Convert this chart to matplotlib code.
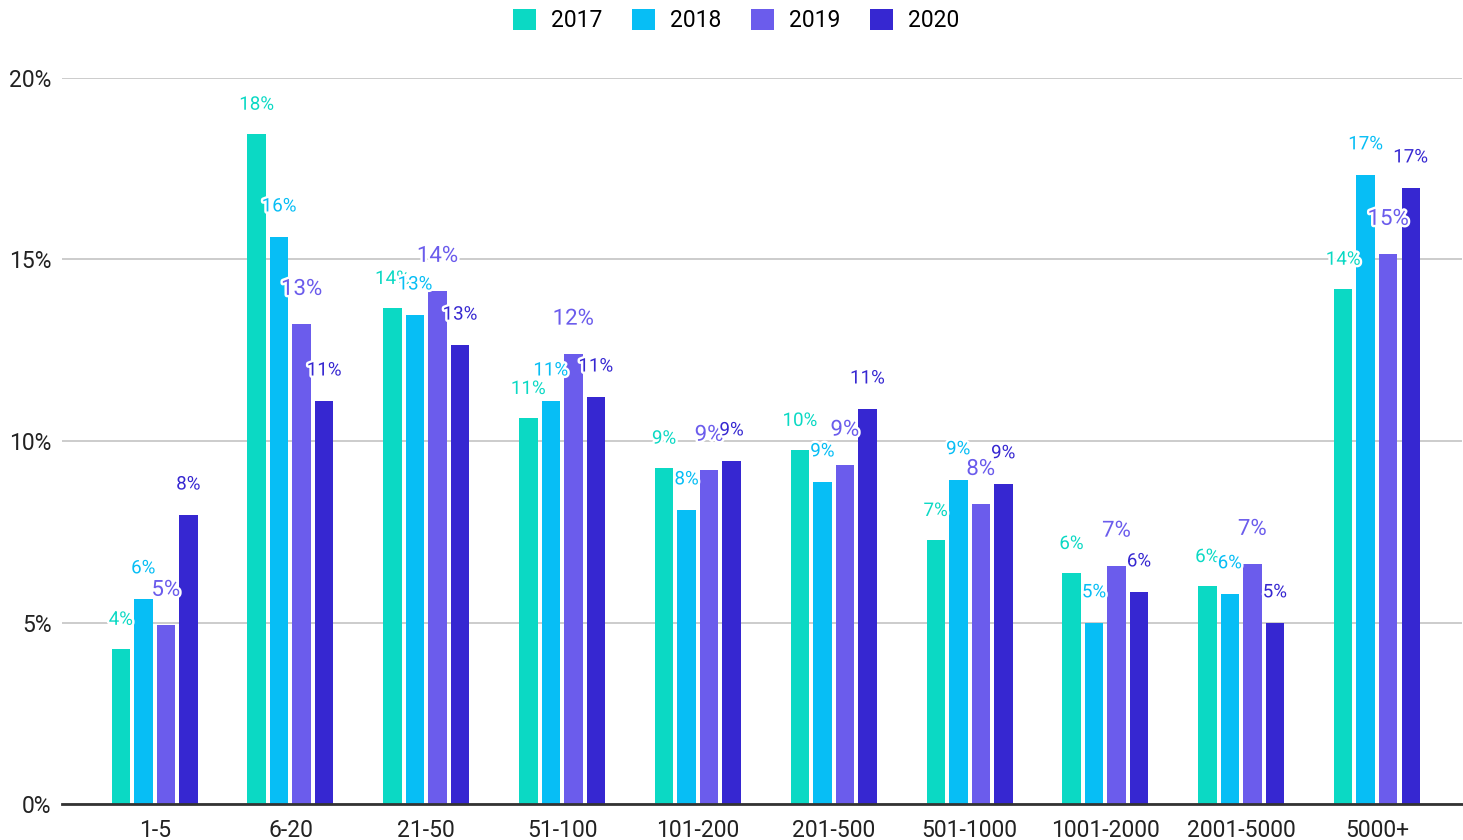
import matplotlib
matplotlib.use("Agg")
import matplotlib.pyplot as plt
import matplotlib.patheffects as pe
from matplotlib.patches import Patch
from matplotlib.ticker import FuncFormatter
import numpy as np

plt.rcParams['font.family'] = ['Roboto', 'DejaVu Sans']

categories = ["1-5", "6-20", "21-50", "51-100", "101-200", "201-500",
              "501-1000", "1001-2000", "2001-5000", "5000+"]
years = ["2017", "2018", "2019", "2020"]
v2017 = [4.27, 18.46, 13.66, 10.63, 9.26, 9.75, 7.27, 6.36, 6.00, 14.19]
v2018 = [5.65, 15.62, 13.47, 11.10, 8.10, 8.87, 8.93, 4.99, 5.79, 17.33]
v2019 = [4.93, 13.22, 14.13, 12.40, 9.20, 9.34, 8.26, 6.56, 6.61, 15.15]
v2020 = [7.96, 11.10, 12.64, 11.21, 9.45, 10.88, 8.82, 5.84, 4.99, 16.97]
series = [v2017, v2018, v2019, v2020]
colors = ["#0BD9C4", "#07BEF5", "#6B5CEC", "#3627D1"]
label_sizes = [13.5, 13.5, 16, 13.5]
label_offsets = [21, 22, 25, 22]

fig = plt.figure(figsize=(14.63, 8.4), dpi=100)
ax = fig.add_axes([62/1463, 36/840, 1400/1463, 726/840])

x = np.arange(len(categories))
step = 0.1657
width = 0.136
for i, (vals, c) in enumerate(zip(series, colors)):
    xs = x + (i - 1.5) * step
    ax.bar(xs, vals, width=width, color=c, zorder=3)
    for xi, v in zip(xs, vals):
        t = ax.annotate(f"{round(v):d}%", (xi, v), xytext=(0, label_offsets[i]),
                        textcoords="offset points", ha="center", va="center",
                        color=c, fontsize=label_sizes[i], zorder=5)
        t.set_path_effects([pe.withStroke(linewidth=3.5, foreground="white")])

ax.set_xlim(-0.682, 9.626)
ax.set_ylim(0, 20)
ax.set_yticks([0, 5, 10, 15, 20])
ax.yaxis.set_major_formatter(FuncFormatter(lambda v, p: f"{int(v)}%"))
ax.set_xticks(x)
ax.set_xticklabels(categories)
ax.tick_params(axis='both', length=0, labelsize=16.5, colors="#222222")
ax.tick_params(axis='y', pad=7.5)
ax.tick_params(axis='x', pad=11)
ax.grid(axis='y', color="#cccccc", linewidth=1.4, zorder=0)
for s in ["top", "right", "left"]:
    ax.spines[s].set_visible(False)
ax.spines["bottom"].set_color("#333333")
ax.spines["bottom"].set_linewidth(2)
ax.spines["bottom"].set_zorder(4)

handles = [Patch(facecolor=c, label=y) for c, y in zip(colors, years)]
fig.legend(handles=handles, loc="upper center", bbox_to_anchor=(0.503, 1.0),
           ncol=4, frameon=False, fontsize=16.5, handlelength=1.0, handleheight=1.0,
           handletextpad=0.65, columnspacing=1.3, borderaxespad=0.0)

fig.savefig("out.png", dpi=100)
